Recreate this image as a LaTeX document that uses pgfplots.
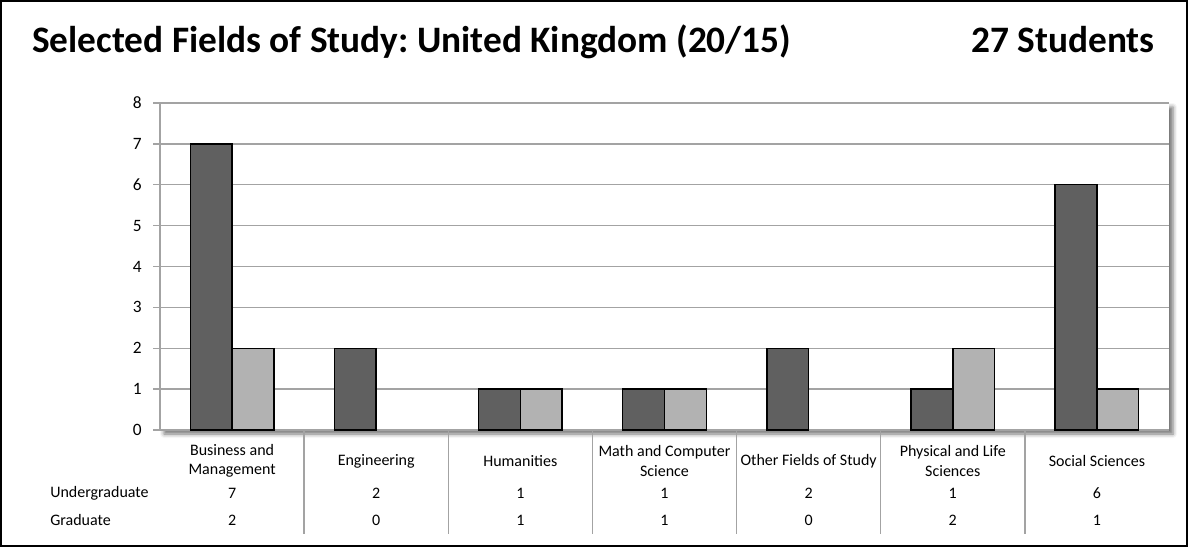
\documentclass[border=0pt]{standalone}
\usepackage{pgfplots}
\pgfplotsset{compat=1.18}
\usepackage{pgfplotstable}
\usepackage{fontspec}
\setmainfont{Carlito}
\usetikzlibrary{shadows.blur}
\frenchspacing

\definecolor{ugcol}{HTML}{606060}
\definecolor{grcol}{HTML}{B2B2B2}
\definecolor{gridcol}{HTML}{A3A3A3}

\pgfplotstableread{
x ug gr
0 7 2
1 2 0
2 1 1
3 1 1
4 2 0
5 1 2
6 6 1
}\fields

\newcommand{\smallfont}{\fontsize{12}{14.6}\selectfont}

\begin{document}
\begin{tikzpicture}
\useasboundingbox (0,0) rectangle (891pt,410.25pt);
\draw[line width=1.5pt] (0.75pt,0.75pt) rectangle (890.25pt,409.5pt);

\node[anchor=base west, inner sep=0pt, font=\fontsize{28}{33}\selectfont\bfseries] at (24pt,370.5pt) {Selected Fields of Study: United Kingdom (20/15)};
\node[anchor=base east, inner sep=0pt, font=\fontsize{28}{33}\selectfont\bfseries] at (866.25pt,370.5pt) {27 Students};

\begin{axis}[
  name=ax,
  at={(120pt,87.75pt)}, anchor=south west,
  scale only axis, width=756.75pt, height=245.25pt,
  xmin=-0.5, xmax=6.5, ymin=0, ymax=8,
  ytick={0,1,...,8},
  xtick={0,...,6},
  xticklabels={{Business and\\Management},{Engineering},{Humanities},{Math and Computer\\Science},{Other Fields of Study},{Physical and Life\\Sciences},{Social Sciences}},
  xtick style={draw=none},
  ytick style={gridcol, line width=1pt},
  tick align=outside, major tick length=5.25pt,
  ymajorgrids, grid style={gridcol, line width=1.1pt},
  axis x line*=bottom, axis y line*=left,
  axis line style={gridcol, line width=1.1pt, -},
  axis background/.style={fill=white, blur shadow={shadow xshift=3pt, shadow yshift=-3pt, shadow blur radius=3pt, shadow opacity=55}},
  /pgf/number format/assume math mode=true,
  yticklabel style={font=\fontsize{13}{15}\selectfont, xshift=-5pt},
  xticklabel style={font=\smallfont, align=center, anchor=center, yshift=-18pt},
  ybar, bar width=0.29,
  clip=false,
]
\addplot[fill=ugcol, draw=black, line width=1.1pt, bar shift=-0.145, restrict y to domain=0.5:100] table[x=x, y=ug]{\fields};
\addplot[fill=grcol, draw=black, line width=1.1pt, bar shift=0.145, restrict y to domain=0.5:100] table[x=x, y=gr]{\fields};
\end{axis}

% data table below the chart
\foreach \k in {1,...,6}{
  \draw[gridcol, line width=1pt] ({(120+108.107*\k)*1pt},87.75pt) -- ({(120+108.107*\k)*1pt},9.5pt);
}
\node[anchor=west, inner sep=0pt, font=\smallfont] at (37.5pt,40.5pt) {Undergraduate};
\node[anchor=west, inner sep=0pt, font=\smallfont] at (37.5pt,20.25pt) {Graduate};
\foreach \i/\u/\g in {0/7/2,1/2/0,2/1/1,3/1/1,4/2/0,5/1/2,6/6/1}{
  \node[font=\smallfont, inner sep=0pt] at ({(120+108.107*(\i+0.5))*1pt},40.5pt) {\u};
  \node[font=\smallfont, inner sep=0pt] at ({(120+108.107*(\i+0.5))*1pt},20.25pt) {\g};
}
\end{tikzpicture}
\end{document}
